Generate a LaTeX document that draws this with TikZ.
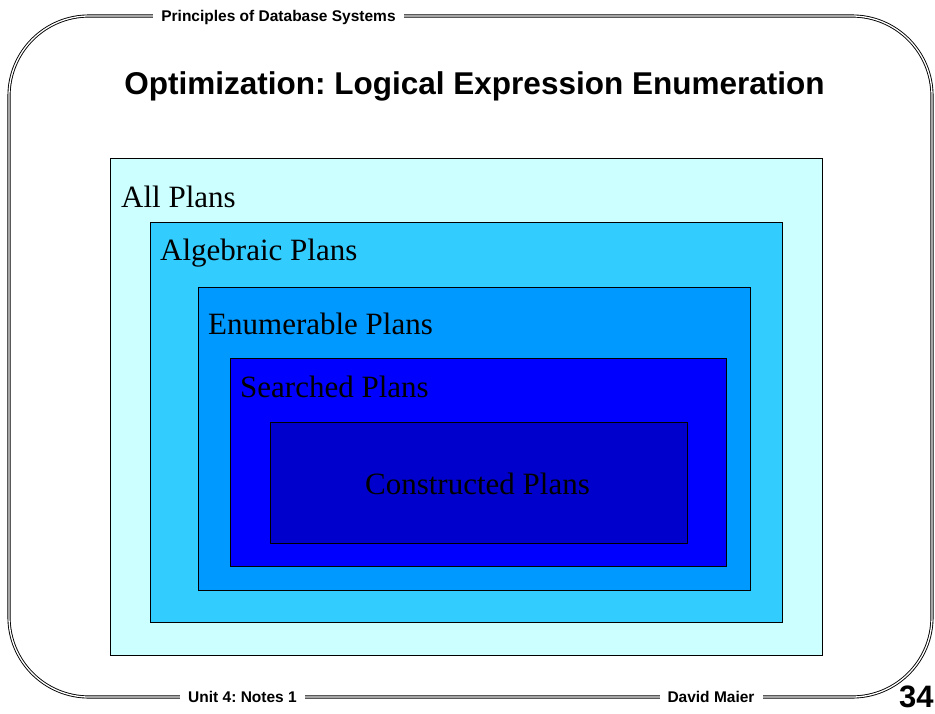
\documentclass[tikz,border=0pt]{standalone}
\usepackage{fontspec}
\setmainfont{Liberation Serif}
\setsansfont{Liberation Sans}
\usetikzlibrary{positioning}
\definecolor{allplans}{HTML}{CCFFFF}
\definecolor{algplans}{HTML}{33CCFF}
\definecolor{enumplans}{HTML}{0099FF}
\definecolor{searchplans}{HTML}{0000FF}
\definecolor{consplans}{HTML}{0000CC}
\frenchspacing

\begin{document}
\begin{tikzpicture}[x=1pt,y=-1pt,
    planbox/.style={draw=black,line width=1pt},
    lbl/.style={font=\fontsize{31}{36}\selectfont,inner sep=0pt,anchor=base west},
    frame/.style={double,double distance=1.3pt,line width=0.9pt,rounded corners=80pt},
    foot/.style={fill=white,font=\sffamily\bfseries\fontsize{15.5}{18}\selectfont,inner xsep=8pt,inner ysep=2pt}]
    \useasboundingbox (0,0) rectangle (935,713);
    \draw[frame] (9,16) rectangle (932,697);
    \node[foot] (head) at (278.5,17) {Principles of Database Systems};
    \node[foot] (unit) at (242.5,697) {Unit 4: Notes 1};
    \node[foot] (author) at (711,697) {David Maier};
    \node[font=\sffamily\bfseries\fontsize{31}{36}\selectfont,inner sep=0pt,anchor=base west] (page) at (899,707) {34};
    \node[font=\sffamily\bfseries\fontsize{31.5}{36}\selectfont,inner sep=0pt,anchor=base] (title) at (474.5,94) {Optimization: Logical Expression Enumeration};

    % nested plan spaces
    \draw[planbox,fill=allplans] (110,158) rectangle (822,655);
    \draw[planbox,fill=algplans] (150,222) rectangle (782,622);
    \draw[planbox,fill=enumplans] (198,287) rectangle (750,590);
    \draw[planbox,fill=searchplans] (230,358) rectangle (726,566);
    \draw[planbox,fill=consplans] (270,422) rectangle (687,543);

    \node[lbl] (all) at (121,207) {All Plans};
    \node[lbl] (alg) at (160,260) {Algebraic Plans};
    \node[lbl] (enum) at (208,334) {Enumerable Plans};
    \node[lbl] (search) at (240,397) {Searched Plans};
    \node[lbl,anchor=base] (cons) at (477.5,494) {Constructed Plans};
\end{tikzpicture}
\end{document}
